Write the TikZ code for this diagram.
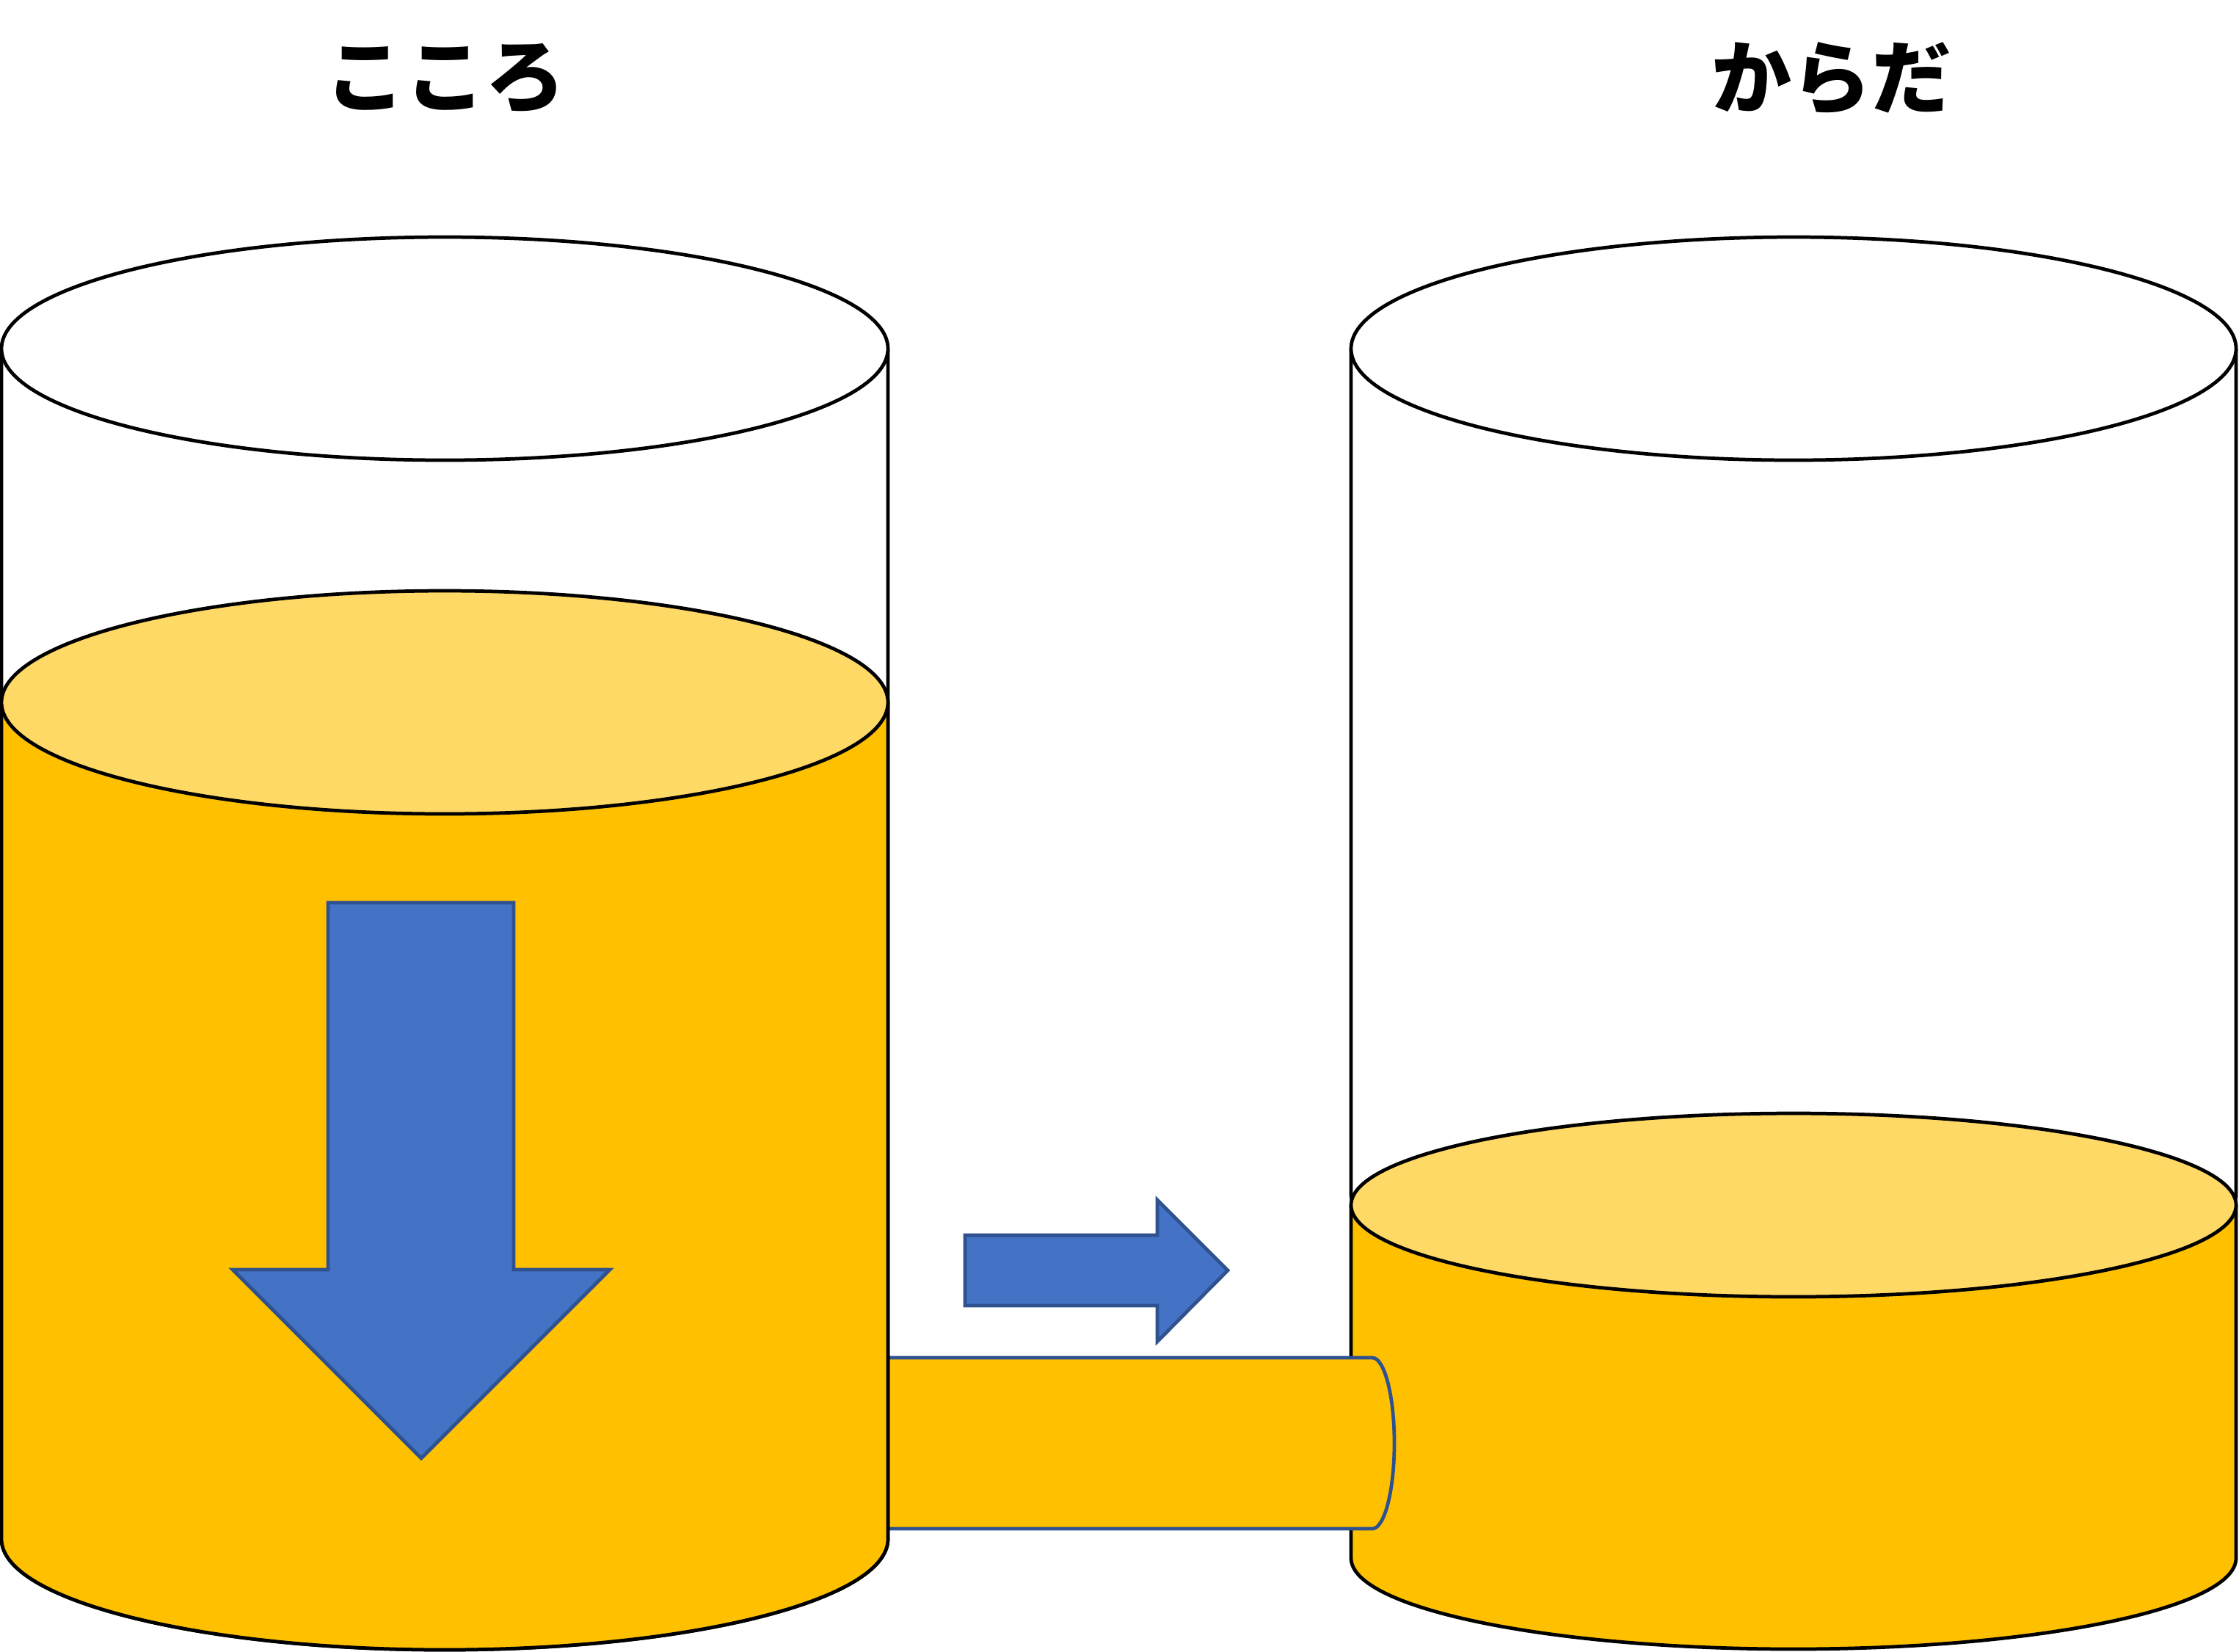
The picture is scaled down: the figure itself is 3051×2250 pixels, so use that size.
\documentclass[tikz,border=0pt]{standalone}
\usepackage{fontspec}
\newfontfamily\jpfont{Noto Sans CJK JP}
\definecolor{gold}{HTML}{FFC000}
\definecolor{lightgold}{HTML}{FFD966}
\definecolor{arrowblue}{HTML}{4472C4}
\definecolor{edgeblue}{HTML}{2F528F}
\tikzset{
  cylline/.style={draw=black, line width=1.35pt, line join=round},
  whitepart/.style={cylline, fill=white},
  goldbody/.style={cylline, fill=gold},
  goldtop/.style={cylline, fill=lightgold},
  pipeline/.style={draw=edgeblue, line width=1.35pt, line join=round},
  bigarrow/.style={draw=edgeblue, line width=1.35pt, fill=arrowblue, line join=miter},
  title/.style={font=\jpfont\bfseries\fontsize{31pt}{36pt}\selectfont, text=black, inner sep=0pt}
}
\begin{document}
\begin{tikzpicture}[x=0.01cm, y=-0.01cm]
\useasboundingbox (0,0) rectangle (3051,2250);
% ---------- right cylinder (karada) ----------
\path[whitepart] (1841,475) -- (1841,1628) arc[start angle=180, end angle=0, x radius=603, y radius=125] -- (3047,475);
\path[whitepart] (2444,475) ellipse[x radius=603, y radius=152];
\path[goldbody] (1841,1642) -- (1841,2123) arc[start angle=180, end angle=0, x radius=603, y radius=124] -- (3047,1642) -- cycle;
\path[goldtop] (2444,1642) ellipse[x radius=603, y radius=125];
% ---------- pipe ----------
\path[fill=gold] (1205,1850) -- (1870,1850) arc[start angle=-90, end angle=90, x radius=30, y radius=116.5] -- (1205,2083) -- cycle;
\path[pipeline] (1205,1850) -- (1870,1850) arc[start angle=-90, end angle=90, x radius=30, y radius=116.5] -- (1205,2083);
% ---------- left cylinder (kokoro) ----------
\path[whitepart] (2,475) -- (2,2097) arc[start angle=180, end angle=0, x radius=604, y radius=151] -- (1210,475);
\path[whitepart] (606,475) ellipse[x radius=604, y radius=152];
\path[goldbody] (2,957) -- (2,2097) arc[start angle=180, end angle=0, x radius=604, y radius=151] -- (1210,957) -- cycle;
\path[goldtop] (606,957) ellipse[x radius=604, y radius=152];
% ---------- arrows ----------
\path[bigarrow] (447,1230) -- (700,1230) -- (700,1730) -- (831,1730) -- (574,1987) -- (317,1730) -- (447,1730) -- cycle;
\path[bigarrow] (1315,1683) -- (1577,1683) -- (1577,1635) -- (1673,1731) -- (1577,1828) -- (1577,1779) -- (1315,1779) -- cycle;
% ---------- titles ----------
\node[title] (kokoro) at (607,107) {こころ};
\node[title] (karada) at (2496,107) {からだ};
\end{tikzpicture}
\end{document}
